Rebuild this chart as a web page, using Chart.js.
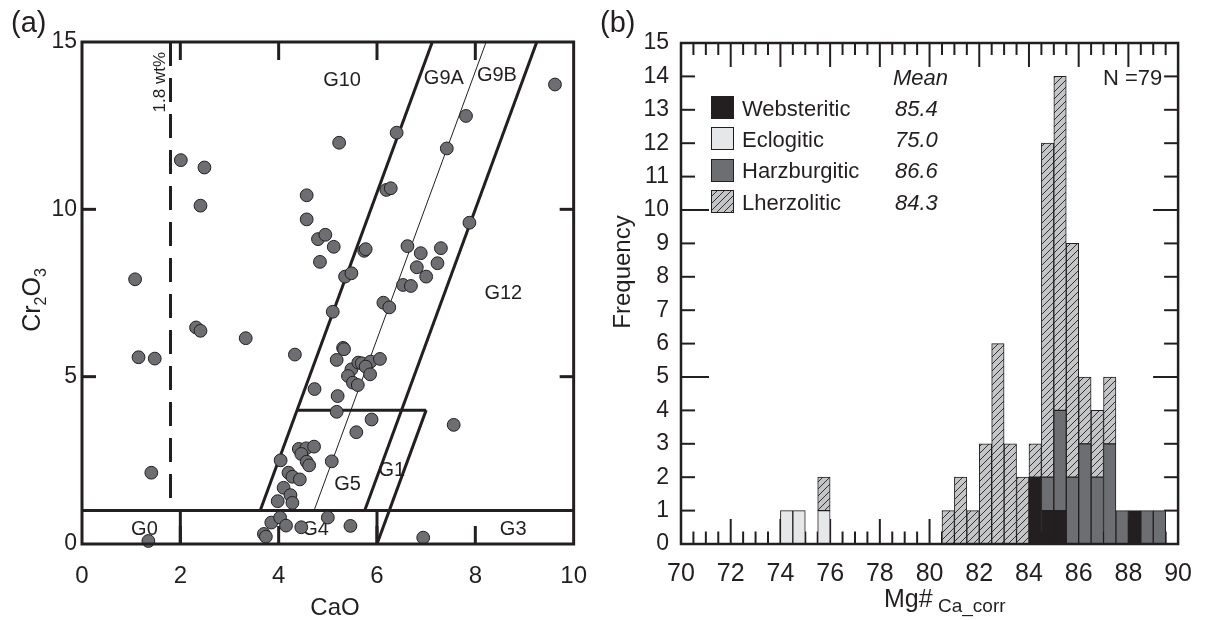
<!DOCTYPE html>
<html>
<head>
<meta charset="utf-8">
<script src="https://cdn.jsdelivr.net/npm/chart.js@4.4.0/dist/chart.umd.min.js"></script>
<style>
  html, body { margin: 0; padding: 0; background: #fff; }
  body { width: 1207px; height: 620px; position: relative; overflow: hidden; }
  canvas { position: absolute; top: 0; }
  #chartA { left: 0; }
  #chartB { left: 600px; }
</style>
</head>
<body>
<canvas id="chartA" width="605" height="620"></canvas>
<canvas id="chartB" width="607" height="620"></canvas>
<script>
// ---- (a) Cr2O3 vs CaO ----
const caO = [2.01, 2.49, 2.41, 1.08, 4.57, 4.57, 4.80, 4.95, 5.12, 4.84,
  5.23, 6.40, 7.81, 9.62, 7.42, 6.19, 6.28, 7.88, 5.74, 5.77,
  5.35, 5.48, 6.62, 6.89, 7.30, 6.81, 7.23, 7.00, 6.53, 6.69,
  2.32, 2.41, 3.33, 1.15, 1.48, 1.41, 1.35, 5.10, 4.33, 4.73,
  4.04, 4.41, 4.56, 4.72, 4.46, 4.57, 4.62, 4.20, 4.28, 4.43,
  4.10, 4.24, 3.98, 4.28, 3.70, 3.74, 3.85, 4.03, 4.15, 4.46,
  5.08, 5.00, 6.13, 6.25, 5.31, 5.33, 5.18, 5.48, 5.62, 5.69,
  5.87, 6.06, 5.41, 5.51, 5.61, 5.77, 5.86, 5.20, 5.18, 5.89,
  5.58, 7.56, 5.46, 6.94];
const cr2o3 = [11.47, 11.25, 10.11, 7.91, 10.42, 9.70, 9.11, 9.24, 8.88, 8.43,
  11.99, 12.29, 12.79, 13.73, 11.82, 10.58, 10.63, 9.60, 8.76, 8.81,
  7.99, 8.09, 8.90, 8.69, 8.84, 8.27, 8.39, 7.99, 7.74, 7.71,
  6.47, 6.37, 6.15, 5.58, 5.54, 2.13, 0.09, 6.94, 5.66, 4.63,
  2.50, 2.84, 2.86, 2.91, 2.69, 2.46, 2.35, 2.13, 2.01, 1.93,
  1.68, 1.46, 1.28, 1.23, 0.30, 0.22, 0.64, 0.79, 0.55, 0.50,
  2.47, 0.79, 7.21, 7.07, 5.86, 5.82, 5.50, 5.22, 5.42, 5.40,
  5.45, 5.53, 5.02, 4.82, 4.75, 5.30, 5.07, 4.42, 3.95, 3.72,
  3.34, 3.56, 0.54, 0.19];
const ticksCaO = [0, 2, 4, 6, 8, 10];
const ticksCr = [0, 5, 10, 15];

// field boundaries: [CaO1, Cr1, CaO2, Cr2]
const boldLines = [[0, 1, 10, 1], [2, 0, 2, 1], [6, 0, 6, 1],
  [3.625, 1, 7.125, 15], [5.75, 1, 9.25, 15], [4.375, 4, 7.0, 4], [6, 0, 7, 4]];
const thinLines = [[4.72, 1, 8.22, 15]];
const dashedLine = [1.8, 15, 1.8, 1];
const fieldNames = ['G10', 'G9A', 'G9B', 'G12', 'G5', 'G1', 'G0', 'G4', 'G3'];
const fieldNameAt = [[5.29, 13.86], [7.36, 13.9], [8.44, 14.0], [8.57, 7.5],
  [5.4, 1.78], [6.3, 2.19], [1.27, 0.42], [4.75, 0.42], [8.77, 0.42]];

// ---- (b) Mg# histogram, bins of 0.5 ----
const binStart = [74, 74.5, 75.5, 80.5, 81, 81.5, 82, 82.5, 83, 83.5, 84,
  84.5, 85, 85.5, 86, 86.5, 87, 87.5, 88, 88.5, 89];
const websteritic  = [0, 0, 0, 0, 0, 0, 0, 0, 0, 0, 2, 1, 1, 0, 0, 0, 0, 0, 1, 0, 0];
const eclogitic    = [1, 1, 1, 0, 0, 0, 0, 0, 0, 0, 0, 0, 0, 0, 0, 0, 0, 0, 0, 0, 0];
const harzburgitic = [0, 0, 0, 0, 0, 0, 0, 0, 0, 0, 0, 1, 3, 2, 3, 2, 3, 1, 0, 1, 1];
const lherzolitic  = [0, 0, 1, 1, 2, 1, 3, 6, 3, 2, 1, 10, 10, 7, 2, 2, 2, 0, 0, 0, 0];
const parageneses = ['Websteritic', 'Eclogitic', 'Harzburgitic', 'Lherzolitic'];
const meanMg = ['85.4', '75.0', '86.6', '84.3'];
const nTotal = 79;
const ticksMg = [70, 72, 74, 76, 78, 80, 82, 84, 86, 88, 90];
const ticksFreq = [0, 1, 2, 3, 4, 5, 6, 7, 8, 9, 10, 11, 12, 13, 14, 15];

const ink = '#231f20';
const SANS = "'Liberation Sans', Arial, sans-serif";

function seg(ctx, x1, y1, x2, y2) {
  ctx.beginPath(); ctx.moveTo(x1, y1); ctx.lineTo(x2, y2); ctx.stroke();
}
function asPoints(l) { return [{x: l[0], y: l[1]}, {x: l[2], y: l[3]}]; }
function lineSet(l, w, dash) {
  return { data: asPoints(l), showLine: true, pointRadius: 0, borderColor: ink,
    borderWidth: w, borderDash: dash || [], borderCapStyle: 'butt', order: 1 };
}

const decorA = {
  id: 'decorA',
  beforeDatasetsDraw(chart) {
    const {ctx, chartArea: a, scales: {x, y}} = chart;
    ctx.save();
    ctx.strokeStyle = ink; ctx.lineWidth = 3;
    [2, 4, 6, 8].forEach(v => {
      const px = x.getPixelForValue(v);
      seg(ctx, px, a.top, px, a.top + 18);
      seg(ctx, px, a.bottom, px, a.bottom - 18);
    });
    [5, 10].forEach(v => {
      const py = y.getPixelForValue(v);
      seg(ctx, a.left, py, a.left + 14, py);
      seg(ctx, a.right, py, a.right - 14, py);
    });
    ctx.fillStyle = ink;
    ctx.font = '20px ' + SANS;
    ctx.textAlign = 'center'; ctx.textBaseline = 'middle';
    fieldNames.forEach((n, i) => {
      ctx.fillText(n, x.getPixelForValue(fieldNameAt[i][0]), y.getPixelForValue(fieldNameAt[i][1]));
    });
    // 1.8 wt% label
    ctx.save();
    ctx.translate(x.getPixelForValue(1.8) - 10, y.getPixelForValue(13.8));
    ctx.rotate(-Math.PI / 2);
    ctx.font = '17px ' + SANS;
    ctx.fillText('1.8 wt%', 0, 0);
    ctx.restore();
    ctx.restore();
  },
  afterDatasetsDraw(chart) {
    const {ctx, chartArea: a} = chart;
    ctx.save();
    ctx.strokeStyle = ink; ctx.lineWidth = 3;
    ctx.strokeRect(a.left, a.top, a.right - a.left, a.bottom - a.top);
    ctx.restore();
  },
  afterDraw(chart) {
    const {ctx} = chart;
    ctx.save();
    ctx.fillStyle = ink;
    ctx.font = '29px ' + SANS;
    ctx.textAlign = 'left'; ctx.textBaseline = 'alphabetic';
    ctx.fillText('(a)', 11, 32);
    ctx.font = '24px ' + SANS;
    ctx.textAlign = 'center';
    ctx.fillText('CaO', 335, 615);
    // Cr2O3 rotated, with subscripts
    ctx.translate(40, 300);
    ctx.rotate(-Math.PI / 2);
    const parts = [['Cr', 25, 0], ['2', 16, 6], ['O', 25, 0], ['3', 16, 6]];
    let total = 0;
    parts.forEach(p => { ctx.font = p[1] + 'px ' + SANS; total += ctx.measureText(p[0]).width; });
    let cx = -total / 2;
    ctx.textAlign = 'left';
    parts.forEach(p => {
      ctx.font = p[1] + 'px ' + SANS;
      ctx.fillText(p[0], cx, p[2]);
      cx += ctx.measureText(p[0]).width;
    });
    ctx.restore();
  }
};

new Chart(document.getElementById('chartA'), {
  type: 'scatter',
  data: {
    datasets: [
      { data: caO.map((v, i) => ({x: v, y: cr2o3[i]})), pointRadius: 6.4,
        backgroundColor: '#6d6e71', borderColor: ink, borderWidth: 1, clip: false, order: 0 },
      ...boldLines.map(l => lineSet(l, 3)),
      ...thinLines.map(l => lineSet(l, 1)),
      lineSet(dashedLine, 3, [24, 12])
    ]
  },
  options: {
    responsive: false, animation: false,
    layout: { padding: { top: 42, right: 16, left: 0, bottom: 0 } },
    plugins: { legend: { display: false }, tooltip: { enabled: false } },
    scales: {
      x: { type: 'linear', min: 0, max: 10,
        afterBuildTicks: s => { s.ticks = ticksCaO.map(v => ({value: v})); },
        ticks: { color: ink, font: { family: SANS, size: 24 }, padding: 18, maxRotation: 0 },
        grid: { display: false, drawTicks: false }, border: { display: false },
        afterFit: s => { s.height = 76; } },
      y: { type: 'linear', min: 0, max: 15,
        afterBuildTicks: s => { s.ticks = ticksCr.map(v => ({value: v})); },
        ticks: { color: ink, font: { family: SANS, size: 23 }, padding: 5 },
        grid: { display: false, drawTicks: false }, border: { display: false },
        afterFit: s => { s.width = 82; } }
    }
  },
  plugins: [decorA]
});

// ---- (b) ----
function hatch(size) {
  const c = document.createElement('canvas');
  c.width = size; c.height = size;
  const g = c.getContext('2d');
  g.fillStyle = '#c4c5c7'; g.fillRect(0, 0, size, size);
  g.strokeStyle = ink; g.lineWidth = 0.9;
  g.beginPath();
  g.moveTo(0, size); g.lineTo(size, 0);
  g.moveTo(-1, 1); g.lineTo(1, -1);
  g.moveTo(size - 1, size + 1); g.lineTo(size + 1, size - 1);
  g.stroke();
  return g.createPattern(c, 'repeat');
}
const hatchFill = hatch(7);
const fills = [ink, '#e6e7e8', '#6d6e71', hatchFill];
const counts = [websteritic, eclogitic, harzburgitic, lherzolitic];

const decorB = {
  id: 'decorB',
  beforeDatasetsDraw(chart) {
    const {ctx, chartArea: a, scales: {x, y}} = chart;
    ctx.save();
    ctx.strokeStyle = ink; ctx.lineWidth = 2;
    for (let v = 70.5; v < 90; v += 0.5) {
      const px = x.getPixelForValue(v);
      const major = v % 2 === 0;
      seg(ctx, px, a.bottom, px, a.bottom - (major ? 25 : 12.5));
      seg(ctx, px, a.top, px, a.top + (major ? 24 : 12));
    }
    for (let v = 1; v < 15; v++) {
      const py = y.getPixelForValue(v);
      const major = v % 5 === 0;
      seg(ctx, a.left, py, a.left + (major ? 28 : 14), py);
      seg(ctx, a.right, py, a.right - (major ? 25 : 14), py);
    }
    ctx.restore();
  },
  afterDatasetsDraw(chart) {
    const {ctx, chartArea: a} = chart;
    ctx.save();
    ctx.strokeStyle = ink; ctx.lineWidth = 2.5;
    ctx.strokeRect(a.left, a.top, a.right - a.left, a.bottom - a.top);
    ctx.restore();
  },
  afterDraw(chart) {
    const {ctx} = chart;
    ctx.save();
    ctx.fillStyle = ink;
    ctx.textAlign = 'left'; ctx.textBaseline = 'alphabetic';
    ctx.font = '29px ' + SANS;
    ctx.fillText('(b)', 0, 32);
    // legend
    const rowTop = [96, 127, 159, 190];
    const rowBase = [116, 147, 178, 210];
    parageneses.forEach((name, i) => {
      ctx.fillStyle = fills[i];
      ctx.fillRect(111, rowTop[i], 22, 22);
      ctx.strokeStyle = ink; ctx.lineWidth = 1;
      ctx.strokeRect(111.5, rowTop[i] + 0.5, 22, 22);
      ctx.fillStyle = ink;
      ctx.font = '22px ' + SANS;
      ctx.fillText(name, 142, rowBase[i]);
      ctx.font = 'italic 22px ' + SANS;
      ctx.fillText(meanMg[i], 295, rowBase[i]);
    });
    ctx.font = 'italic 22px ' + SANS;
    ctx.fillText('Mean', 293, 85);
    ctx.font = '22px ' + SANS;
    ctx.fillText('N =' + nTotal, 503, 85);
    // axis titles
    ctx.font = '25px ' + SANS;
    ctx.fillText('Mg#', 284, 607);
    ctx.font = '19px ' + SANS;
    ctx.fillText('Ca_corr', 338, 612);
    ctx.save();
    ctx.translate(30, 272);
    ctx.rotate(-Math.PI / 2);
    ctx.textAlign = 'center';
    ctx.font = '24px ' + SANS;
    ctx.fillText('Frequency', 0, 0);
    ctx.restore();
    ctx.restore();
  }
};

new Chart(document.getElementById('chartB'), {
  type: 'bar',
  data: {
    datasets: parageneses.map((name, k) => ({
      label: name,
      data: binStart.map((b, i) => ({x: b + 0.25, y: counts[k][i]})).filter(d => d.y > 0),
      backgroundColor: fills[k], borderColor: ink, borderWidth: 1,
      borderSkipped: false, barPercentage: 1, categoryPercentage: 1
    }))
  },
  options: {
    responsive: false, animation: false,
    layout: { padding: { top: 43, right: 24, left: 0, bottom: 0 } },
    plugins: { legend: { display: false }, tooltip: { enabled: false } },
    scales: {
      x: { type: 'linear', min: 70, max: 90, stacked: true, offset: false,
        afterBuildTicks: s => { s.ticks = ticksMg.map(v => ({value: v})); },
        ticks: { color: ink, font: { family: SANS, size: 25 }, padding: 15, maxRotation: 0 },
        grid: { display: false, drawTicks: false, offset: false }, border: { display: false },
        afterFit: s => { s.height = 76; } },
      y: { type: 'linear', min: 0, max: 15, stacked: true,
        afterBuildTicks: s => { s.ticks = ticksFreq.map(v => ({value: v})); },
        ticks: { color: ink, font: { family: SANS, size: 23 }, padding: 12 },
        grid: { display: false, drawTicks: false }, border: { display: false },
        afterFit: s => { s.width = 81; } }
    }
  },
  plugins: [decorB]
});
</script>
</body>
</html>
